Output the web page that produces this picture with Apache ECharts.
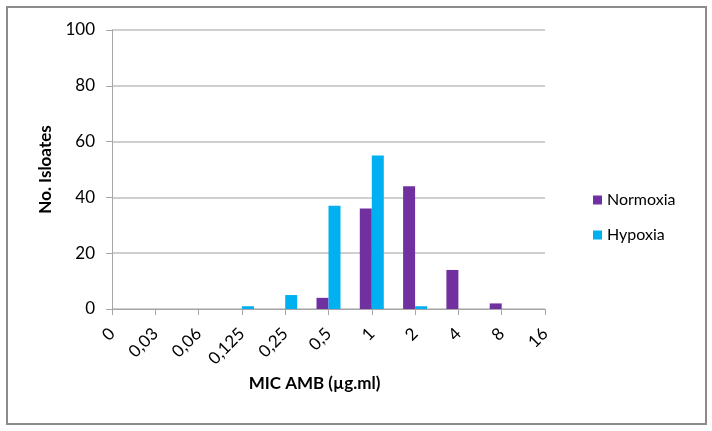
<!DOCTYPE html>
<html>
<head>
<meta charset="utf-8">
<script src="https://cdn.jsdelivr.net/npm/echarts@6/dist/echarts.min.js"></script>
<style>html,body{margin:0;padding:0;background:#fff;}#chart{width:712px;height:431px;}</style>
</head>
<body>
<div id="chart"></div>
<script>
const categories = ['0', '0,03', '0,06', '0,125', '0,25', '0,5', '1', '2', '4', '8', '16'];
const normoxia = [0, 0, 0, 0, 0, 4, 36, 44, 14, 2, 0];
const hypoxia = [0, 0, 0, 1, 5, 37, 55, 1, 0, 0, 0];
const yTicks = { min: 0, max: 100, interval: 20 };

const FONT = 'Lato';
const chart = echarts.init(document.getElementById('chart'), null, { renderer: 'canvas' });
chart.setOption({
  animation: false,
  backgroundColor: '#fff',
  textStyle: { fontFamily: FONT },
  graphic: [{
    type: 'rect',
    shape: { x: 7, y: 7, width: 699, height: 417 },
    style: { fill: 'none', stroke: '#8c8c8c', lineWidth: 2 },
    silent: true
  }],
  grid: { left: 112, right: 167, top: 30, bottom: 122, containLabel: false },
  legend: {
    orient: 'vertical',
    left: 588,
    top: 187,
    itemWidth: 9,
    itemHeight: 9,
    itemGap: 19,
    icon: 'rect',
    textStyle: { fontFamily: FONT, fontSize: 16, color: '#000' },
    data: ['Normoxia', 'Hypoxia']
  },
  xAxis: {
    type: 'category',
    data: categories,
    boundaryGap: false,
    name: 'MIC AMB (µg.ml)',
    nameLocation: 'middle',
    nameGap: 66,
    nameTextStyle: { fontFamily: FONT, fontSize: 17, fontWeight: 'bold', color: '#000', padding: [0, 28, 0, 0] },
    axisLine: { lineStyle: { color: '#a6a6a6', width: 1 } },
    axisTick: { alignWithLabel: true, length: 6, lineStyle: { color: '#a6a6a6' } },
    axisLabel: { rotate: 45, fontFamily: FONT, fontSize: 17, color: '#000', margin: 22, interval: 0 },
    splitLine: { show: false }
  },
  yAxis: {
    type: 'value',
    min: yTicks.min,
    max: yTicks.max,
    interval: yTicks.interval,
    name: 'No. Isloates',
    nameLocation: 'middle',
    nameGap: 58,
    nameTextStyle: { fontFamily: FONT, fontSize: 17, fontWeight: 'bold', color: '#000' },
    axisLine: { show: true, lineStyle: { color: '#a6a6a6', width: 1 } },
    axisTick: { show: true, length: 6, lineStyle: { color: '#a6a6a6' } },
    axisLabel: { fontFamily: FONT, fontSize: 17, color: '#000', margin: 17 },
    splitLine: { show: true, lineStyle: { color: '#bfbfbf', width: 1.5 } }
  },
  series: [
    { name: 'Normoxia', type: 'bar', data: normoxia, barWidth: 12, barGap: '0%', itemStyle: { color: '#7030A0' } },
    { name: 'Hypoxia', type: 'bar', data: hypoxia, barWidth: 12, barGap: '0%', itemStyle: { color: '#00B0F0' } }
  ]
});
</script>
</body>
</html>
